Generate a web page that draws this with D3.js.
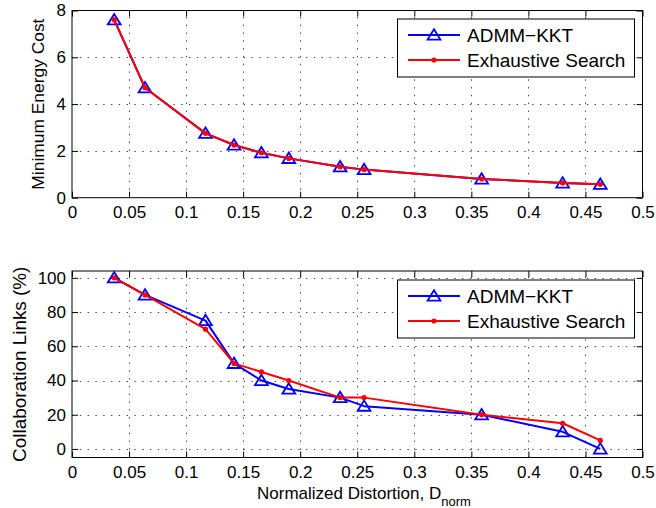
<!DOCTYPE html>
<html>
<head>
<meta charset="utf-8">
<script src="https://cdn.jsdelivr.net/npm/d3@7"></script>
<style>
  html, body { margin: 0; padding: 0; background: #fff; }
  svg { display: block; }
  text { font-family: "Liberation Sans", Arial, Helvetica, sans-serif; fill: #000; }
</style>
</head>
<body>
<svg id="chart" width="656" height="508"></svg>
<script>
// Normalized distortion (shared x for both panels)
const distortion = [0.037, 0.064, 0.117, 0.142, 0.166, 0.190, 0.235, 0.256, 0.359, 0.430, 0.463];

// Panel 1: minimum energy cost
const energyADMM = [7.6, 4.7, 2.75, 2.25, 1.92, 1.68, 1.32, 1.2, 0.8, 0.63, 0.57];
const energyExhaustive = [7.6, 4.7, 2.75, 2.25, 1.92, 1.68, 1.32, 1.2, 0.8, 0.63, 0.57];

// Panel 2: collaboration links (%)
const linksADMM = [100, 90, 75, 50, 40, 35, 30, 25, 20, 10, 0];
const linksExhaustive = [100, 90, 70, 50, 45, 40, 30, 30, 20, 15, 5];

// Axis ticks
const xTicks = [0, 0.05, 0.1, 0.15, 0.2, 0.25, 0.3, 0.35, 0.4, 0.45, 0.5];
const energyTicks = [0, 2, 4, 6, 8];
const linksTicks = [0, 20, 40, 60, 80, 100];

const seriesNames = ["ADMM\u2212KKT", "Exhaustive Search"];
const blue = "#0000ff", red = "#ff0000";

const svg = d3.select("#chart");

const x = d3.scaleLinear().domain([0, 0.5]).range([72, 642.5]);

const panels = [
  {
    y: d3.scaleLinear().domain([0, 8]).range([197.7, 10.5]),
    ticks: energyTicks,
    a: energyADMM, b: energyExhaustive,
    ylabel: "Minimum Energy Cost", ylabelX: 44, ylabelSize: 17.4,
    legendTop: 19
  },
  {
    y: d3.scaleLinear().domain([-5, 104]).range([457.5, 271]),
    ticks: linksTicks,
    a: linksADMM, b: linksExhaustive,
    ylabel: "Collaboration Links (%)", ylabelX: 26, ylabelSize: 18.9,
    legendTop: 280
  }
];

const fmt = d => d === 0 ? "0" : String(d);

function triangle(sel) {
  return sel.append("path")
    .attr("d", "M0,-5.8 L6.4,4.6 L-6.4,4.6 Z")
    .attr("fill", "none")
    .attr("stroke", blue)
    .attr("stroke-width", 1.8)
    .attr("stroke-linejoin", "miter");
}

panels.forEach(p => {
  const [y0, y1] = p.y.range();
  const [x0, x1] = x.range();
  const g = svg.append("g");

  // white plot area
  g.append("rect").attr("x", x0).attr("y", y1).attr("width", x1 - x0).attr("height", y0 - y1)
    .attr("fill", "#fff");

  // dotted grid
  const grid = g.append("g").attr("stroke", "#444").attr("stroke-width", 1)
    .attr("stroke-dasharray", "1.4,6.4");
  grid.selectAll(".gx").data(xTicks.slice(1, -1)).join("line")
    .attr("x1", d => Math.round(x(d)) + 0.5).attr("x2", d => Math.round(x(d)) + 0.5)
    .attr("y1", y0).attr("y2", y1);
  grid.selectAll(".gy").data(p.ticks.filter(t => p.y(t) < y0 - 1 && p.y(t) > y1 + 1)).join("line")
    .attr("y1", d => Math.round(p.y(d)) + 0.5).attr("y2", d => Math.round(p.y(d)) + 0.5)
    .attr("x1", x0).attr("x2", x1);

  // axes with inward ticks on all four sides
  const axB = d3.axisBottom(x).tickValues(xTicks).tickFormat(fmt).tickSizeInner(-6).tickSizeOuter(0).tickPadding(8);
  const axT = d3.axisTop(x).tickValues(xTicks).tickFormat("").tickSizeInner(-6).tickSizeOuter(0);
  const axL = d3.axisLeft(p.y).tickValues(p.ticks).tickFormat(fmt).tickSizeInner(-6).tickSizeOuter(0).tickPadding(6);
  const axR = d3.axisRight(p.y).tickValues(p.ticks).tickFormat("").tickSizeInner(-6).tickSizeOuter(0);

  const styleAxis = s => {
    s.select(".domain").remove();
    s.selectAll("line").attr("stroke", "#000");
    s.selectAll("text").attr("font-size", 17).attr("font-family", '"Liberation Sans", Arial, sans-serif');
  };
  g.append("g").attr("transform", `translate(0,${y0})`).call(axB).call(styleAxis);
  g.append("g").attr("transform", `translate(0,${y1})`).call(axT).call(styleAxis);
  g.append("g").attr("transform", `translate(${x0},0)`).call(axL).call(styleAxis);
  g.append("g").attr("transform", `translate(${x1},0)`).call(axR).call(styleAxis);

  // box
  g.append("rect").attr("x", x0).attr("y", y1).attr("width", x1 - x0).attr("height", y0 - y1)
    .attr("fill", "none").attr("stroke", "#000").attr("stroke-width", 1);

  // series
  const line = d3.line().x((d, i) => x(distortion[i])).y(d => p.y(d));
  g.append("path").datum(p.a).attr("d", line).attr("fill", "none")
    .attr("stroke", blue).attr("stroke-width", 2).attr("stroke-linejoin", "round");
  p.a.forEach((v, i) => {
    triangle(g.append("g").attr("transform", `translate(${x(distortion[i])},${p.y(v)})`));
  });
  g.append("path").datum(p.b).attr("d", line).attr("fill", "none")
    .attr("stroke", red).attr("stroke-width", 2).attr("stroke-linejoin", "round");
  g.selectAll(".dot").data(p.b).join("circle")
    .attr("cx", (d, i) => x(distortion[i])).attr("cy", d => p.y(d))
    .attr("r", 2.6).attr("fill", red);

  // y label
  g.append("text")
    .attr("transform", `translate(${p.ylabelX},${(y0 + y1) / 2}) rotate(-90)`)
    .attr("text-anchor", "middle")
    .attr("font-size", p.ylabelSize)
    .text(p.ylabel);

  // legend
  const lx = 397.5, lw = 237, lh = 58, lt = p.legendTop;
  const lg = g.append("g");
  lg.append("rect").attr("x", lx).attr("y", lt).attr("width", lw).attr("height", lh)
    .attr("fill", "#fff").attr("stroke", "#000").attr("stroke-width", 1);
  const rows = [lt + 16, lt + 41];
  lg.append("line").attr("x1", 408).attr("x2", 460).attr("y1", rows[0]).attr("y2", rows[0])
    .attr("stroke", blue).attr("stroke-width", 2);
  triangle(lg.append("g").attr("transform", `translate(434,${rows[0]})`));
  lg.append("line").attr("x1", 408).attr("x2", 460).attr("y1", rows[1]).attr("y2", rows[1])
    .attr("stroke", red).attr("stroke-width", 2);
  lg.append("circle").attr("cx", 434).attr("cy", rows[1]).attr("r", 2.6).attr("fill", red);
  seriesNames.forEach((name, i) => {
    lg.append("text").attr("x", 467).attr("y", rows[i] + 7).attr("font-size", 19).text(name);
  });
});

// shared x label with subscript
const xl = svg.append("text").attr("x", 257).attr("y", 499).attr("font-size", 17);
xl.append("tspan").text("Normalized Distortion, D");
xl.append("tspan").attr("dy", 7).attr("font-size", 13).text("norm");
</script>
</body>
</html>
